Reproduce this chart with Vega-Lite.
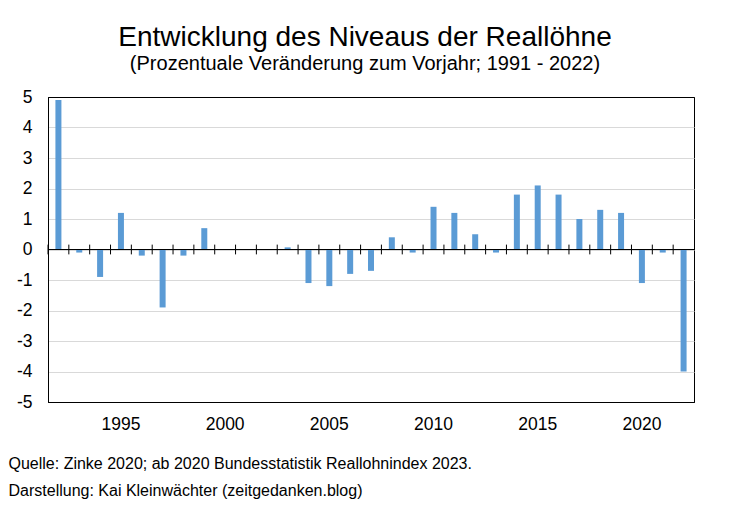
{
  "$schema": "https://vega.github.io/schema/vega-lite/v6.json",
  "width": 646,
  "height": 305,
  "autosize": "none",
  "padding": {"left": 48, "top": 97, "right": 38, "bottom": 107},
  "background": "white",
  "config": {
    "view": {"stroke": "#000", "strokeWidth": 1},
    "font": "Liberation Sans"
  },
  "title": {
    "text": "Entwicklung des Niveaus der Reallöhne",
    "subtitle": "(Prozentuale Veränderung zum Vorjahr; 1991 - 2022)",
    "font": "Liberation Sans",
    "subtitleFont": "Liberation Sans",
    "fontSize": 28,
    "subtitleFontSize": 20,
    "fontWeight": "normal",
    "color": "#000",
    "subtitleColor": "#000",
    "anchor": "middle",
    "dx": -6,
    "offset": 14,
    "subtitlePadding": 2
  },
  "data": {
    "values": [
      {"year": 1992, "value": 4.9},
      {"year": 1993, "value": -0.1},
      {"year": 1994, "value": -0.9},
      {"year": 1995, "value": 1.2},
      {"year": 1996, "value": -0.2},
      {"year": 1997, "value": -1.9},
      {"year": 1998, "value": -0.2},
      {"year": 1999, "value": 0.7},
      {"year": 2000, "value": 0},
      {"year": 2001, "value": 0},
      {"year": 2002, "value": 0},
      {"year": 2003, "value": 0.07},
      {"year": 2004, "value": -1.1},
      {"year": 2005, "value": -1.2},
      {"year": 2006, "value": -0.8},
      {"year": 2007, "value": -0.7},
      {"year": 2008, "value": 0.4},
      {"year": 2009, "value": -0.1},
      {"year": 2010, "value": 1.4},
      {"year": 2011, "value": 1.2},
      {"year": 2012, "value": 0.5},
      {"year": 2013, "value": -0.1},
      {"year": 2014, "value": 1.8},
      {"year": 2015, "value": 2.1},
      {"year": 2016, "value": 1.8},
      {"year": 2017, "value": 1.0},
      {"year": 2018, "value": 1.3},
      {"year": 2019, "value": 1.2},
      {"year": 2020, "value": -1.1},
      {"year": 2021, "value": -0.1},
      {"year": 2022, "value": -4.0}
    ]
  },
  "layer": [
    {
      "mark": {"type": "bar", "color": "#5B9BD5", "width": 6},
      "encoding": {
        "x": {
          "field": "year",
          "type": "ordinal",
          "scale": {"paddingInner": 0, "paddingOuter": 0},
          "axis": {
            "values": [1995, 2000, 2005, 2010, 2015, 2020],
            "bandPosition": 1,
            "labelAngle": 0,
            "ticks": false,
            "tickSize": 0,
            "domain": true,
            "domainColor": "#000",
            "domainWidth": 1,
            "grid": false,
            "labelFont": "Liberation Sans",
            "labelFontSize": 17.5,
            "labelColor": "#000",
            "labelPadding": 13,
            "labelOverlap": false,
            "title": ["Quelle: Zinke 2020; ab 2020 Bundesstatistik Reallohnindex 2023.", "Darstellung: Kai Kleinwächter (zeitgedanken.blog)"],
            "titleFont": "Liberation Sans",
            "titleFontSize": 16,
            "titleFontWeight": "normal",
            "titleColor": "#000",
            "titleAlign": "left",
            "titleAnchor": "start",
            "titleBaseline": "alphabetic",
            "titleX": -40,
            "titleY": 66,
            "titleLineHeight": 27.7
          }
        },
        "y": {
          "field": "value",
          "type": "quantitative",
          "scale": {"domain": [-5, 5], "nice": false, "zero": false},
          "axis": {
            "values": [-5, -4, -3, -2, -1, 0, 1, 2, 3, 4, 5],
            "tickCount": 11,
            "labelExpr": "datum.value < 0 ? '-' + abs(datum.value) : '' + datum.value",
            "labelOverlap": false,
            "grid": true,
            "gridColor": {"condition": {"test": "abs(datum.value) == 5", "value": "#000"}, "value": "#d9d9d9"},
            "gridWidth": 1,
            "ticks": false,
            "tickSize": 0,
            "domain": true,
            "domainColor": "#000",
            "domainWidth": 1,
            "labelFont": "Liberation Sans",
            "labelFontSize": 17.5,
            "labelColor": "#000",
            "labelPadding": 16,
            "title": null
          }
        }
      }
    },
    {
      "mark": {"type": "rule", "color": "#000", "strokeWidth": 1},
      "encoding": {"y": {"datum": 0}}
    },
    {
      "mark": {"type": "rule", "color": "#000", "strokeWidth": 1},
      "encoding": {
        "x": {"field": "year", "type": "ordinal", "bandPosition": 0},
        "y": {"datum": -0.16},
        "y2": {"datum": 0.16}
      }
    }
  ]
}
